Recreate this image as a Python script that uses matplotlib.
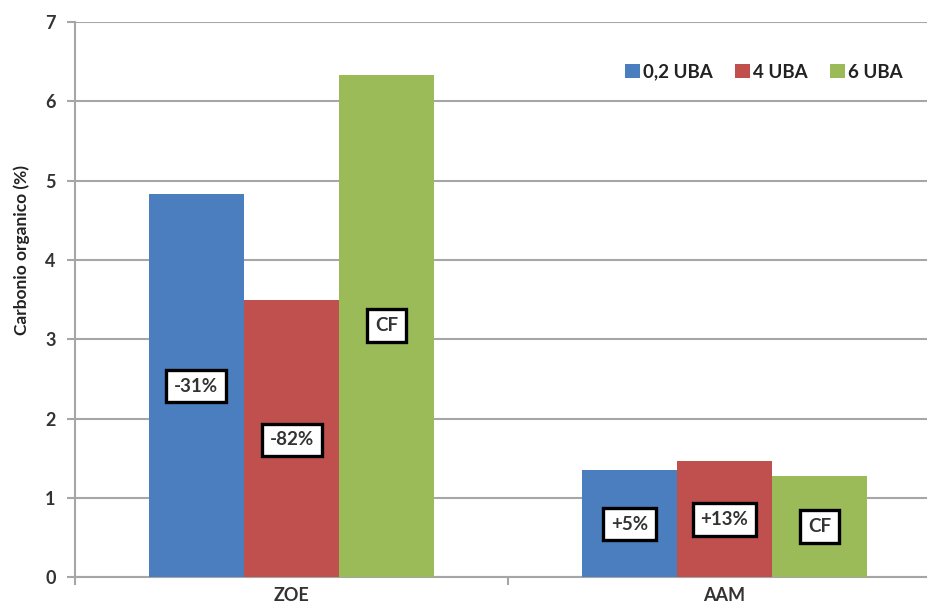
import numpy as np
import matplotlib.pyplot as plt

plt.rcParams['font.family'] = ['Lato', 'DejaVu Sans']

categories = ['ZOE', 'AAM']
series = ['0,2 UBA', '4 UBA', '6 UBA']
values = [[4.83, 1.35],
          [3.49, 1.46],
          [6.33, 1.27]]
labels = [['-31%', '+5%'],
          ['-82%', '+13%'],
          ['CF', 'CF']]
label_y = [[2.41, 0.67],
           [1.73, 0.73],
           [3.17, 0.64]]
colors = ['#4a7ebf', '#c0504d', '#9bbb59']

fig = plt.figure(figsize=(9.27, 6.14), dpi=100)
# the plot area runs a little past the right edge of the picture, as in the original
ax = fig.add_axes([0.081, 0.060, 0.934, 0.904])

w = 0.22
x = np.arange(len(categories))
for i in range(3):
    xs = x + (i - 1) * w
    ax.bar(xs, values[i], w, color=colors[i], label=series[i], zorder=3)
    for j in range(len(categories)):
        ax.text(xs[j], label_y[i][j], labels[i][j], ha='center', va='center',
                fontsize=13.5, fontweight='bold', color='#333333', zorder=5,
                bbox=dict(boxstyle='square,pad=0.42', fc='white', ec='black', lw=2.4))

ax.set_xlim(-0.5, 1.5)
ax.set_ylim(0, 7)
ax.set_yticks(range(8))
ax.yaxis.grid(True, color='#a6a6a6', lw=1.5, zorder=0)
ax.set_xticks(x)
ax.set_xticklabels(categories)
ax.set_xticks([-0.5, 0.5, 1.5], minor=True)
ax.tick_params(axis='x', which='major', length=0, pad=7, labelsize=13, labelcolor='#333333')
ax.tick_params(axis='x', which='minor', length=6, color='#a6a6a6', width=1.5)
ax.tick_params(axis='y', length=6, color='#a6a6a6', width=1.5, labelsize=13, labelcolor='#333333', pad=8)
for t in ax.get_yticklabels() + ax.get_xticklabels():
    t.set_fontweight('bold')

for s in ['top', 'right']:
    ax.spines[s].set_visible(False)
for s in ['left', 'bottom']:
    ax.spines[s].set_color('#a6a6a6')
    ax.spines[s].set_linewidth(1.5)

ax.set_ylabel('Carbonio organico (%)', fontsize=12.5, fontweight='bold', color='#222222')
ax.yaxis.set_label_coords(-0.052, 0.59)

leg = ax.legend(loc='center right', bbox_to_anchor=(0.975, 0.91), ncol=3, frameon=False,
                prop={'size': 13.5, 'weight': 'bold'}, handlelength=0.8, handleheight=0.8,
                handletextpad=0.15, columnspacing=1.2)
for t in leg.get_texts():
    t.set_color('#222222')

fig.savefig('out.png', dpi=100)
